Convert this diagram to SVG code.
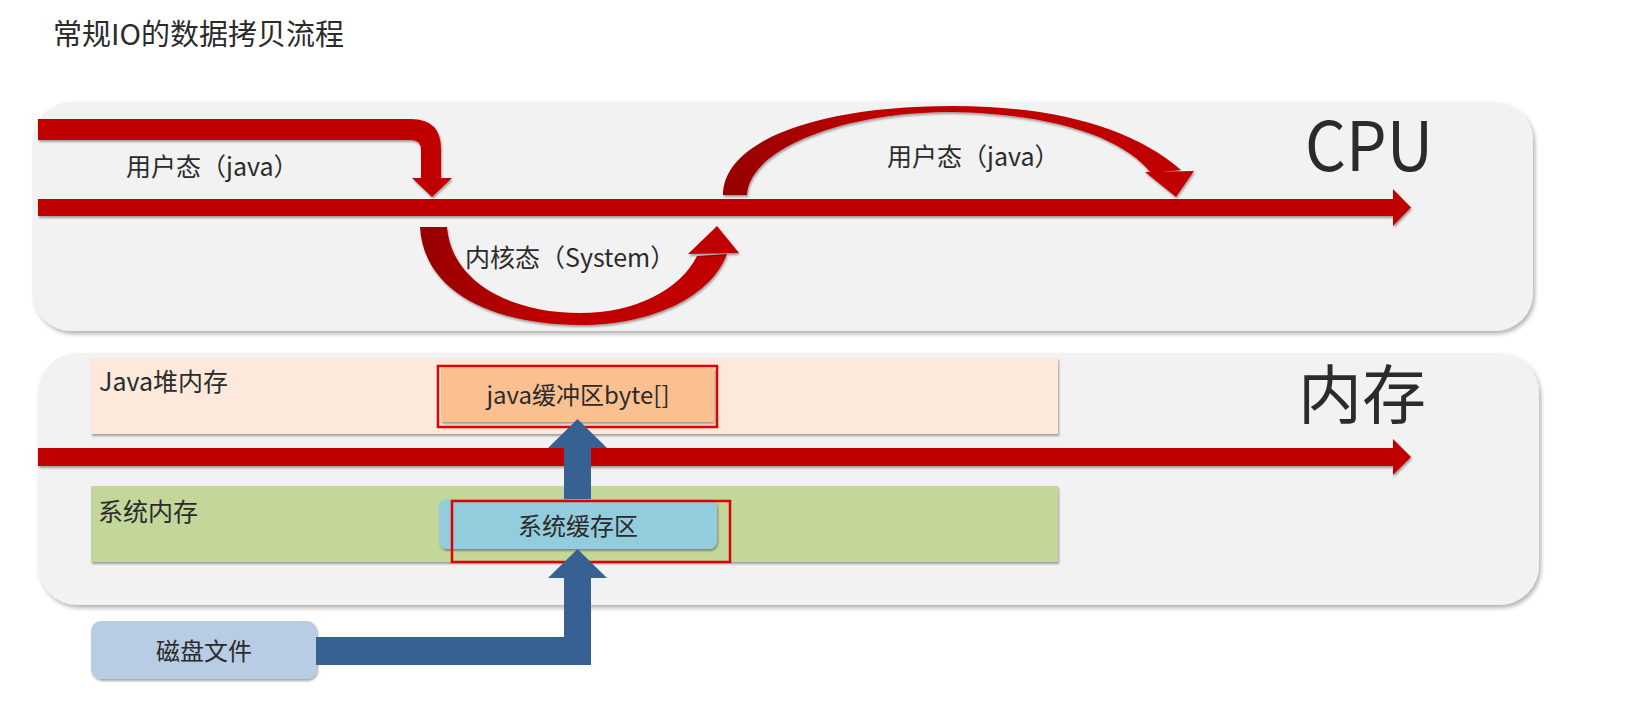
<svg xmlns="http://www.w3.org/2000/svg" width="1630" height="701" viewBox="0 0 1630 701">
<style>
text{font-family:"Noto Sans CJK SC","Noto Sans",sans-serif;fill:#2b2b2b}
.lbl{font-size:25px}
.box{font-size:24px}
.red{fill:#c00000}
.blue{fill:#386193}
</style>
<defs>
<filter id="sh" x="-5%" y="-20%" width="110%" height="140%">
<feDropShadow dx="2" dy="3" stdDeviation="2" flood-color="#000" flood-opacity="0.3"/>
</filter>
<filter id="shs" x="-5%" y="-30%" width="110%" height="160%">
<feDropShadow dx="1" dy="2" stdDeviation="1.2" flood-color="#000" flood-opacity="0.35"/>
</filter>
<linearGradient id="gUp" gradientUnits="userSpaceOnUse" x1="722" y1="0" x2="880" y2="0">
<stop offset="0" stop-color="#950000"/><stop offset="1" stop-color="#c00000"/>
</linearGradient>
<linearGradient id="gLow" gradientUnits="userSpaceOnUse" x1="421" y1="0" x2="540" y2="0">
<stop offset="0" stop-color="#950000"/><stop offset="1" stop-color="#c00000"/>
</linearGradient>
</defs>
<rect width="1630" height="701" fill="#ffffff"/>

<g id="title"><text x="53" y="45" style="font-size:29px">常规IO的数据拷贝流程</text></g>

<g id="cpu">
<rect x="33" y="102" width="1500" height="229" rx="38" fill="#f2f2f2" filter="url(#sh)"/>
<text x="1305" y="171" style="font-size:68px" textLength="128" lengthAdjust="spacingAndGlyphs">CPU</text>
</g>

<g id="memory">
<rect x="38" y="353" width="1501" height="252" rx="40" fill="#f2f2f2" filter="url(#sh)"/>
<text x="1298" y="418" style="font-size:64px">内存</text>
</g>

<g id="java-heap">
<rect x="91" y="358" width="967" height="76" fill="#fde9db" filter="url(#shs)"/>
<text class="lbl" x="99" y="391">Java堆内存</text>
</g>

<g id="sys-mem">
<rect x="91" y="486" width="967" height="76" fill="#c4d79b" filter="url(#shs)"/>
<text class="lbl" x="98" y="521">系统内存</text>
</g>

<g id="connectors">
<!-- CPU main arrow -->
<polygon class="red" filter="url(#shs)" points="38,199 1393,199 1393,189 1411,207.5 1393,226 1393,216 38,216"/>
<!-- memory main arrow -->
<polygon class="red" filter="url(#shs)" points="38,448 1393,448 1393,439 1411,457 1393,475 1393,466 38,466"/>
<!-- top-left bent arrow -->
<path class="red" filter="url(#shs)" d="M38 119 H411 Q441 119 441 149 V178 H452 L432 197 L412 178 H421 V150 Q421 140 411 140 H38 Z"/>
<!-- lower kernel arc -->
<path fill="url(#gLow)" filter="url(#shs)" d="M420 227 C424 296 500 325 580 325 C655 325 712 295 727 254 L697 256 C680 290 635 313 580 313 C515 313 452 285 447 227 Z"/>
<polygon class="red" filter="url(#shs)" points="688,254 739,253 717,226"/>
<!-- upper user arc -->
<path fill="url(#gUp)" filter="url(#shs)" d="M723 195 C723 140 820 106 952 106 C1060 106 1135 130 1181 170 L1151 173 C1125 140 1060 114 952 112 C840 112 749 150 747 195 Z"/>
<polygon class="red" filter="url(#shs)" points="1145,172 1194,171 1176,197"/>
</g>

<g id="labels">
<text class="lbl" x="126" y="176">用户态（java）</text>
<text class="lbl" x="887" y="166">用户态（java）</text>
<text class="lbl" x="465" y="267">内核态（System）</text>
</g>

<g id="java-buffer">
<rect x="441" y="368" width="273" height="54" fill="#fac090" filter="url(#shs)"/>
<rect x="438" y="366" width="279" height="61" fill="none" stroke="#e00000" stroke-width="2.5"/>
<text class="box" x="578" y="404" text-anchor="middle">java缓冲区byte[]</text>
</g>

<g id="sys-buffer">
<rect x="439" y="499" width="278" height="50" rx="8" fill="#93cddd" filter="url(#shs)"/>
<rect x="452" y="501" width="278" height="61" fill="none" stroke="#e00000" stroke-width="2.5"/>
<text class="box" x="578" y="535" text-anchor="middle">系统缓存区</text>
</g>

<g id="disk">
<rect x="91" y="621" width="226" height="58" rx="10" fill="#b8cce4" filter="url(#shs)"/>
<text class="box" x="204" y="660" text-anchor="middle">磁盘文件</text>
</g>

<g id="copy-arrows">
<polygon class="blue" points="564,499 564,448 548,448 577.5,419 607,448 591,448 591,499"/>
<polygon class="blue" points="316,637 564,637 564,578 548,578 577.5,549 607,578 591,578 591,665 316,665"/>
</g>
</svg>
